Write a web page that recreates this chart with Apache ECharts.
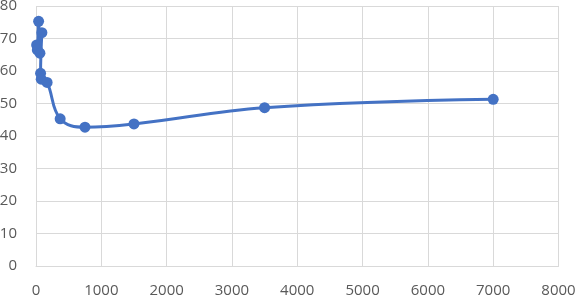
<!DOCTYPE html>
<html>
<head>
<meta charset="utf-8">
<script src="https://cdn.jsdelivr.net/npm/echarts@6/dist/echarts.min.js"></script>
<style>html,body{margin:0;padding:0;background:#fff}#c{width:577px;height:297px}</style>
</head>
<body>
<div id="c"></div>
<script>
const xValues = [10, 20, 40, 60, 90, 70, 80, 170, 370, 750, 1500, 3500, 7000];
const yValues = [68, 66.5, 75.3, 65.5, 71.8, 59.3, 57.5, 56.5, 45.3, 42.7, 43.7, 48.7, 51.3];
const xTicks = [0, 1000, 2000, 3000, 4000, 5000, 6000, 7000, 8000];
const yTicks = [0, 10, 20, 30, 40, 50, 60, 70, 80];

const chart = echarts.init(document.getElementById('c'), null, {renderer: 'canvas'});
const data = xValues.map((x, i) => [x, yValues[i]]);
const labelStyle = {color: '#595959', fontSize: 15, fontFamily: 'Open Sans'};
chart.setOption({
  animation: false,
  grid: {left: 36, right: 18.5, top: 6, bottom: 31, containLabel: false, outerBoundsMode: 'none'},
  xAxis: {
    type: 'value', min: xTicks[0], max: xTicks[xTicks.length - 1], interval: 1000,
    axisLine: {show: true, lineStyle: {color: '#d9d9d9'}},
    axisTick: {show: false},
    splitLine: {show: true, lineStyle: {color: '#d9d9d9', width: 1}},
    axisLabel: Object.assign({margin: 17, formatter: v => String(v)}, labelStyle)
  },
  yAxis: {
    type: 'value', min: yTicks[0], max: yTicks[yTicks.length - 1], interval: 10,
    axisLine: {show: false},
    axisTick: {show: false},
    splitLine: {show: true, lineStyle: {color: '#d9d9d9', width: 1}},
    axisLabel: Object.assign({margin: 19, formatter: v => String(v)}, labelStyle)
  },
  series: [{
    type: 'line',
    data: data,
    smooth: 0.4,
    symbol: 'circle',
    symbolSize: 11,
    lineStyle: {color: '#4472C4', width: 3},
    itemStyle: {color: '#4472C4'}
  }]
});
</script>
</body>
</html>
